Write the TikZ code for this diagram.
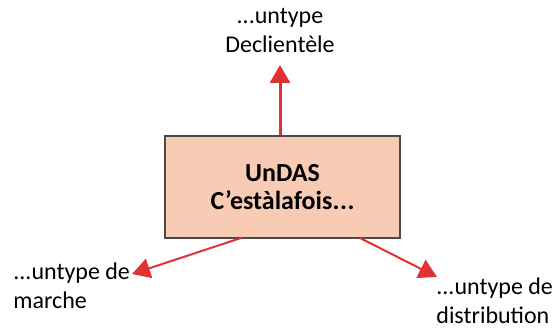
\documentclass[tikz,border=0pt]{standalone}
\usepackage{fontspec}
\setmainfont{Carlito}
\usetikzlibrary{arrows.meta}
\definecolor{boxfill}{HTML}{F8CBB4}
\definecolor{boxline}{HTML}{4A4A4A}
\definecolor{arrowred}{HTML}{E03232}
\begin{document}
\begin{tikzpicture}[x=0.5pt,y=-0.5pt,
  mainbox/.style={draw=boxline,line width=0.9pt,fill=boxfill,minimum width=117.5pt,minimum height=51pt,
    align=center,font=\fontsize{13}{14}\selectfont\bfseries},
  label/.style={font=\fontsize{12}{14.5}\selectfont,inner sep=0pt},
  redarrow/.style={draw=arrowred,-{Triangle[length=9pt,width=10pt]},line width=1pt},
  thickarrow/.style={redarrow,line width=1.5pt}]
  \useasboundingbox (0,0) rectangle (553,331);
  % central box
  \node[mainbox] (das) at (282.5,187) {UnDAS\\C’estàlafois.\kern0.3pt.\kern0.3pt.};
  % outcome labels
  \node[label,align=center] (client) at (280,31) {...untype\\Declientèle};
  \node[label,align=left,anchor=west] (marche) at (13,286) {...untype de\\marche};
  \node[label,align=left,anchor=west] (distrib) at (436,301) {...untype de\\distribution};
  % arrow end points and starts on the box
  \coordinate (tipc) at (280,65);
  \coordinate (tipm) at (132,274);
  \coordinate (tipd) at (437,277);
  \coordinate (startm) at (241,238);
  \coordinate (startd) at (360,238);
  \draw[thickarrow] (das.north -| tipc) -- (tipc);
  \draw[redarrow] (startm) -- (tipm);
  \draw[redarrow] (startd) -- (tipd);
\end{tikzpicture}
\end{document}
